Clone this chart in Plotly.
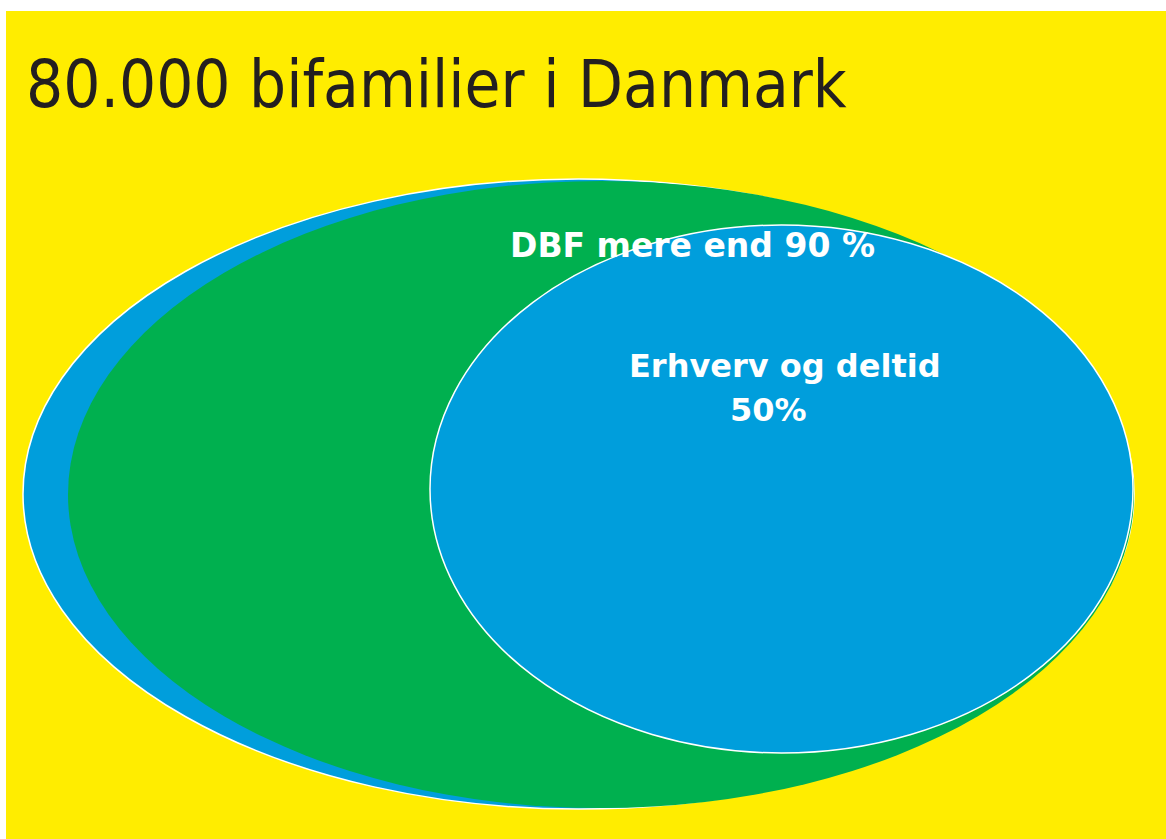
import plotly.graph_objects as go

# ---- data ----
title_text = "80.000 bifamilier i Danmark"
groups = ["Alle bifamilier", "DBF", "Erhverv og deltid"]
share_pct = [100, 90, 50]
label_lines = {
    "DBF": ["DBF mere end 90 %"],
    "Erhverv og deltid": ["Erhverv og deltid", "50%"],
}

W, H = 1166, 839
YELLOW = "#FFED00"
GREEN = "#00B04F"
BLUE = "#009EDC"
DARK = "#231F20"

fig = go.Figure()
fig.add_trace(go.Scatter(x=[0, W], y=[0, H], mode="markers",
                         marker=dict(opacity=0), hoverinfo="skip", showlegend=False))

shapes = [
    dict(type="rect", x0=6, x1=W + 5, y0=11, y1=H + 5, fillcolor=YELLOW,
         line=dict(width=0), layer="below"),
    # outer: all bifamilier
    dict(type="circle", x0=23, x1=1134, y0=179, y1=809, fillcolor=BLUE,
         line=dict(color="white", width=1.5), layer="below"),
    # DBF
    dict(type="circle", x0=68, x1=1134, y0=181, y1=808, fillcolor=GREEN,
         line=dict(width=0), layer="below"),
    # Erhverv og deltid
    dict(type="circle", x0=430, x1=1133, y0=225, y1=753, fillcolor=BLUE,
         line=dict(color="white", width=1.5), layer="below"),
]

annotations = [
    dict(x=24, y=84, xref="x", yref="y", text=title_text, showarrow=False,
         xanchor="left", yanchor="middle",
         font=dict(family="Liberation Sans Narrow, DejaVu Sans Condensed, DejaVu Sans",
                   size=65, color=DARK)),
    dict(x=692, y=245, xref="x", yref="y", text="<b>%s</b>" % label_lines["DBF"][0],
         showarrow=False, xanchor="center", yanchor="middle",
         font=dict(family="DejaVu Sans", size=33, color="white")),
    dict(x=785, y=366, xref="x", yref="y",
         text="<b>%s</b>" % label_lines["Erhverv og deltid"][0],
         showarrow=False, xanchor="center", yanchor="middle",
         font=dict(family="DejaVu Sans", size=32, color="white")),
    dict(x=768, y=410, xref="x", yref="y",
         text="<b>%s</b>" % label_lines["Erhverv og deltid"][1],
         showarrow=False, xanchor="center", yanchor="middle",
         font=dict(family="DejaVu Sans", size=32, color="white")),
]

fig.update_layout(
    width=W, height=H,
    margin=dict(l=0, r=0, t=0, b=0, pad=0),
    paper_bgcolor="white", plot_bgcolor="white",
    xaxis=dict(range=[0, W], visible=False, fixedrange=True),
    yaxis=dict(range=[H, 0], visible=False, fixedrange=True),
    shapes=shapes, annotations=annotations, showlegend=False,
)
fig.write_html("out.html", config={"displayModeBar": False},
               post_script="document.body.style.margin='0';document.body.style.overflow='hidden';")
